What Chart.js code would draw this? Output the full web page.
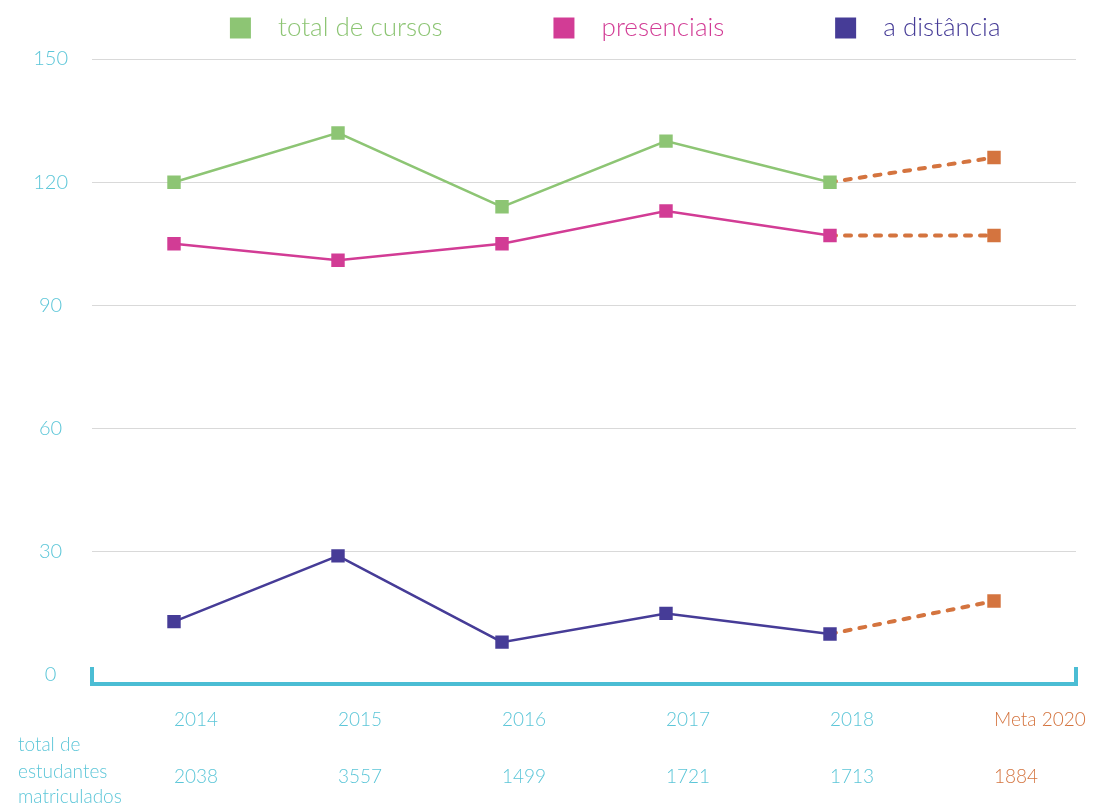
<!DOCTYPE html>
<html>
<head>
<meta charset="utf-8">
<script src="https://cdn.jsdelivr.net/npm/chart.js@4.4.1/dist/chart.umd.min.js"></script>
<style>
  html, body { margin: 0; padding: 0; background: #fff; overflow: hidden; }
  canvas { display: block; }
</style>
</head>
<body>
<canvas id="cursosChart" width="1096" height="805"></canvas>
<script>
var anos = ['2014', '2015', '2016', '2017', '2018', 'Meta 2020'];
var totalCursos = [120, 132, 114, 130, 120, 126];
var presenciais = [105, 101, 105, 113, 107, 107];
var distancia = [13, 29, 8, 15, 10, 18];
var matriculados = ['2038', '3557', '1499', '1721', '1713', '1884'];
var yTicks = [0, 30, 60, 90, 120, 150];

var verde = '#8dc574';
var rosa = '#d23c95';
var roxo = '#463c97';
var laranja = '#d4743f';
var ciano = '#5cc6d8';
var metaIdx = anos.length - 1;

function pontoCores(cor) {
    var arr = [];
    for (i = 0; i < anos.length; i++) arr.push(i == metaIdx ? laranja : cor);
    return arr;
}

function serie(label, dados, cor) {
    return {
        label: label,
        data: dados,
        borderColor: cor,
        backgroundColor: cor,
        borderWidth: 2.5,
        pointStyle: 'rect',
        pointRadius: 9.5,
        pointHoverRadius: 9.5,
        pointBorderWidth: 0,
        pointBackgroundColor: pontoCores(cor),
        segment: {
            borderColor: function(ctx) { return ctx.p1DataIndex == metaIdx ? laranja : undefined; },
            borderDash: function(ctx) { return ctx.p1DataIndex == metaIdx ? [6, 9] : undefined; },
            borderWidth: function(ctx) { return ctx.p1DataIndex == metaIdx ? 4 : undefined; }
        },
        borderCapStyle: 'round',
        tension: 0
    };
}

// espacos extras para afastar os itens da legenda
var legendaExtra = ['              ', '              ', '         '];

var extras = {
    id: 'extras',
    afterInit: function(chart) {
        // um pouco mais de espaco entre a legenda e o grafico
        if (chart.legend) {
            var fitOrig = chart.legend.fit;
            chart.legend.fit = function() {
                fitOrig.call(this);
                this.height += 8;
            };
        }
    },
    // colchete azul embaixo + rotulo "total de estudantes matriculados"
    afterDraw: function(chart) {
        var ctx = chart.ctx;
        var a = chart.chartArea;
        var yb = a.bottom + 9;
        ctx.save();
        ctx.strokeStyle = '#4bbdd4';
        ctx.lineWidth = 4;
        ctx.lineCap = 'square';
        ctx.beginPath();
        ctx.moveTo(a.left, a.bottom - 6);
        ctx.lineTo(a.left, yb);
        ctx.lineTo(a.right, yb);
        ctx.lineTo(a.right, a.bottom - 6);
        ctx.stroke();

        ctx.fillStyle = ciano;
        ctx.font = '300 19px Lato';
        ctx.textAlign = 'left';
        ctx.textBaseline = 'middle';
        ctx.fillText('total de', 18, a.bottom + 70);
        ctx.fillText('estudantes', 18, a.bottom + 97);
        ctx.fillText('matriculados', 18, a.bottom + 122);
        ctx.restore();
    }
};

var chart = new Chart(document.getElementById('cursosChart').getContext('2d'), {
    type: 'line',
    data: {
        labels: anos,
        datasets: [
            serie('total de cursos', totalCursos, verde),
            serie('presenciais', presenciais, rosa),
            serie('a distância', distancia, roxo)
        ]
    },
    options: {
        responsive: false,
        animation: false,
        layout: { padding: { left: 0, right: 20, top: 3, bottom: 13 } },
        plugins: {
            tooltip: { enabled: false },
            legend: {
                align: 'end',
                labels: {
                    usePointStyle: true,
                    boxWidth: 21,
                    boxHeight: 21,
                    padding: 12,
                    font: { family: 'Lato', size: 26, weight: '300' },
                    generateLabels: function(chart) {
                        var items = Chart.defaults.plugins.legend.labels.generateLabels(chart);
                        items.forEach(function(it, i) {
                            it.fontColor = chart.data.datasets[i].borderColor;
                            it.text = '  ' + it.text + legendaExtra[i];
                        });
                        return items;
                    }
                }
            }
        },
        scales: {
            x: {
                offset: true,
                grid: { display: false },
                border: { display: false },
                afterFit: function(scale) {
                    scale.height = 117;
                    scale.paddingLeft = 0;
                    scale.paddingRight = 0;
                },
                ticks: {
                    align: 'start',
                    padding: 23,
                    maxRotation: 0,
                    autoSkip: false,
                    font: { family: 'Lato', size: 19, weight: '300', lineHeight: 1.5 },
                    color: function(ctx) { return ctx.index == metaIdx ? laranja : ciano; },
                    callback: function(v, i) { return [anos[i], '', matriculados[i]]; }
                }
            },
            y: {
                min: 0,
                max: 150,
                afterBuildTicks: function(scale) {
                    scale.ticks = yTicks.map(function(v) { return { value: v }; });
                },
                afterFit: function(scale) {
                    scale.width = 92;
                },
                grid: {
                    drawTicks: false,
                    color: function(ctx) { return ctx.tick.value === 0 ? 'rgba(0,0,0,0)' : '#d9d9d9'; }
                },
                border: { display: false },
                ticks: {
                    crossAlign: 'center',
                    padding: 24,
                    color: ciano,
                    font: { family: 'Lato', size: 20, weight: '300' }
                }
            }
        }
    },
    plugins: [extras]
});
</script>
</body>
</html>
